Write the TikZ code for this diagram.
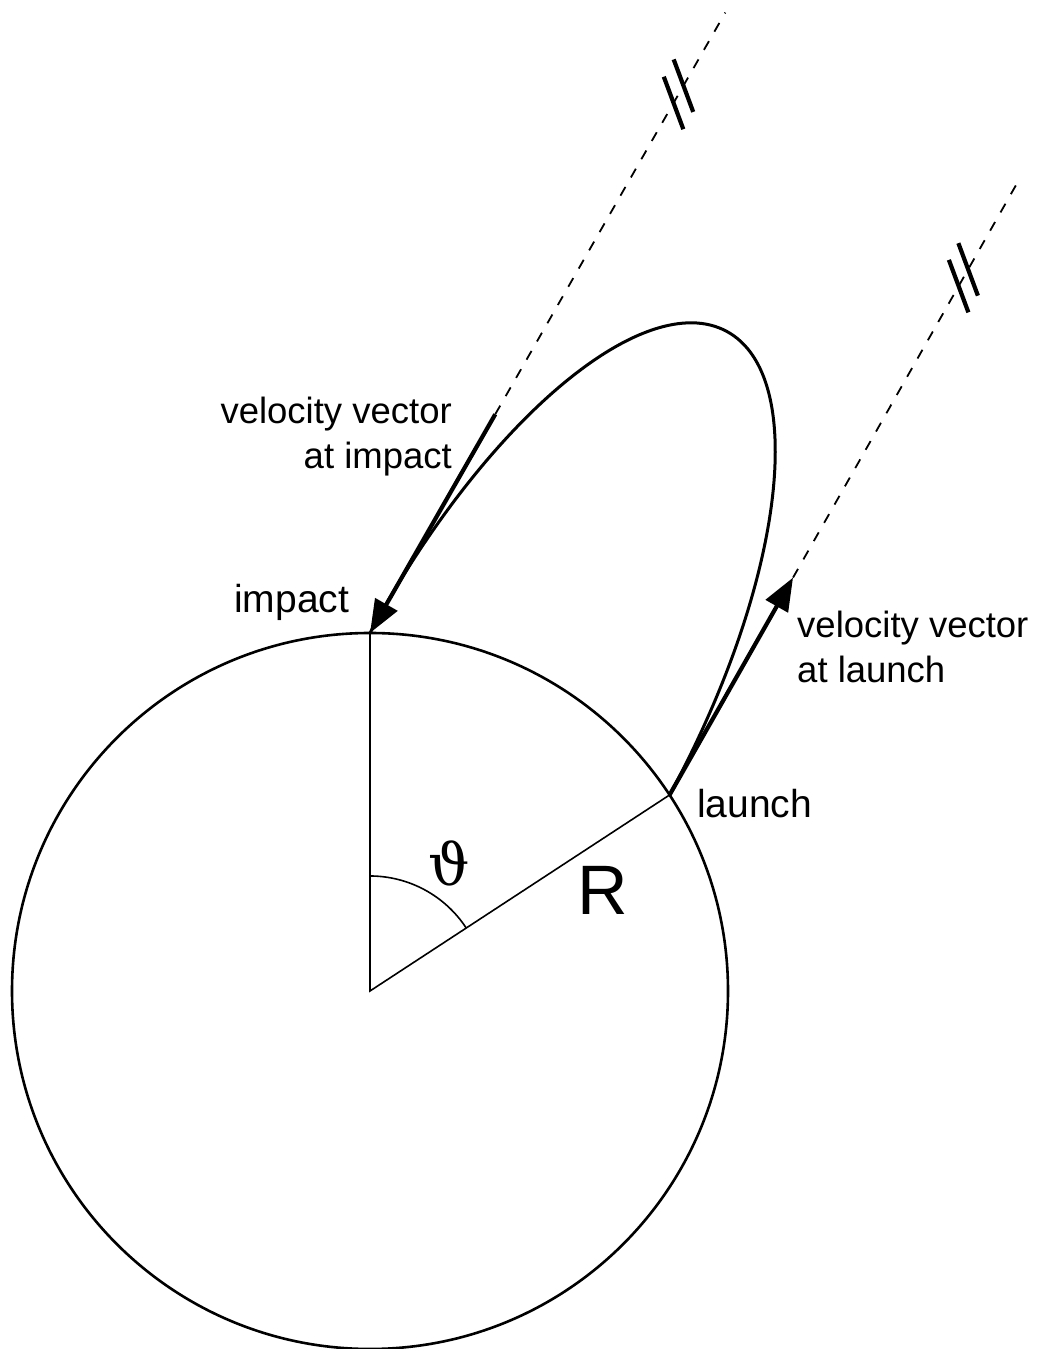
\documentclass[tikz,border=0pt]{standalone}
\usepackage{graphicx}
\usepackage{fontspec}
\newfontfamily\labfont{Liberation Sans}
\newfontfamily\thfont{DejaVu Serif}
\usetikzlibrary{arrows.meta,calc}
\tikzset{
  earth/.style={line width=2.6pt},
  radline/.style={line width=1.6pt},
  orbit/.style={line width=3pt},
  vec/.style={line width=4.2pt,-{Triangle[length=33pt,width=25pt]}},
  farline/.style={line width=1.8pt,dash pattern=on 10pt off 11pt},
  brk/.style={line width=4.2pt},
  lbl/.style={font=\labfont\fontsize{36.5}{45}\selectfont, inner sep=0pt},
  ptlbl/.style={font=\labfont\fontsize{39}{45}\selectfont, inner sep=0pt},
}
\begin{document}
\begin{tikzpicture}[x=1pt,y=1pt]
\useasboundingbox (0,0) rectangle (1037,1349);
% key points
\coordinate (C) at (370,358);
\coordinate (I) at (370,716);
\coordinate (L) at ($(C)+(33.2:358)$);
\coordinate (Ti) at ($(I)+(60.2:252)$);
\coordinate (Te) at ($(I)+(60.2:715)$);
\coordinate (Tl) at ($(L)+(60.4:250)$);
\coordinate (Tle) at ($(L)+(60.4:708)$);
% earth
\draw[earth] (C) circle[radius=358];
% radii and angle
\draw[radline] (I) -- (C) -- (L);
\draw[radline] ($(C)+(0,115)$) arc[start angle=90, end angle=33.2, radius=115];
% orbit
\draw[orbit, rotate=61.6] (I) arc[start angle=90, end angle=-90, x radius=435, y radius=170.3];
% velocity vectors
\draw[vec] (Ti) -- (I);
\draw[vec] (L) -- (Tl);
% dashed continuations with break marks
\draw[farline] (Ti) -- (Te);
\draw[farline] (Tl) -- (Tle);
\foreach \f in {0.775,0.818}
  \draw[brk] ($(Ti)!\f!(Te)+(110.4:28)$) -- ($(Ti)!\f!(Te)+(-69.6:28)$);
\foreach \f in {0.732,0.774}
  \draw[brk] ($(Tl)!\f!(Tle)+(110.4:28)$) -- ($(Tl)!\f!(Tle)+(-69.6:28)$);
% labels
\node[lbl, align=right, anchor=east] (vi) at (452,912.7) {velocity vector\\at impact};
\node[lbl, align=left, anchor=west] (vl) at (797,702.5) {velocity vector\\at launch};
\node[ptlbl, anchor=base west] (ti) at (234,736) {impact};
\node[ptlbl, anchor=base west] (tl) at (697,531) {launch};
\node[inner sep=0pt, font=\thfont\fontsize{58}{64}\selectfont] (th) at (449,486) {ϑ};
\node[inner sep=0pt, font=\labfont\fontsize{70}{80}\selectfont] (R) at (603,459) {R};
\end{tikzpicture}
\end{document}
